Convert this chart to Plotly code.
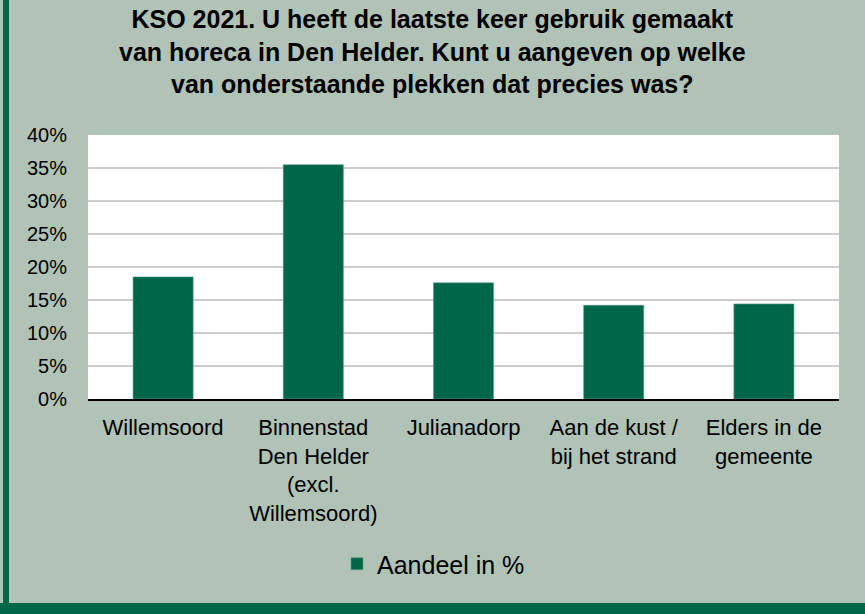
import plotly.graph_objects as go

categories = ["Willemsoord", "Binnenstad<br>Den Helder<br>(excl.<br>Willemsoord)", "Julianadorp",
              "Aan de kust /<br>bij het strand", "Elders in de<br>gemeente"]
values = [0.185, 0.355, 0.176, 0.142, 0.144]
series_name = "Aandeel in %"
tick_vals = [0, 0.05, 0.10, 0.15, 0.20, 0.25, 0.30, 0.35, 0.40]
tick_text = ["0%", "5%", "10%", "15%", "20%", "25%", "30%", "35%", "40%"]
title_text = ("<b>KSO 2021. U heeft de laatste keer gebruik gemaakt<br>van horeca in Den Helder. "
              "Kunt u aangeven op welke<br>van onderstaande plekken dat precies was?</b>")

W, H = 865, 614
L, R, T, B = 88, 26, 135, 215
pw, ph = W - L - R, H - T - B

def px_x(p):
    return (p - L) / pw

def px_y(p):
    return (H - B - p) / ph

bar_color = "#006648"
bg = "#b1c2b7"
font = "Liberation Sans, Arial, sans-serif"

fig = go.Figure()
fig.add_trace(go.Bar(x=categories, y=values, name=series_name, marker_color=bar_color,
                     marker_line_color="#5e9c84", marker_line_width=0.6, width=0.4,
                     showlegend=True))

fig.update_layout(
    width=W, height=H,
    margin=dict(l=L, r=R, t=T, b=B, autoexpand=False),
    paper_bgcolor=bg, plot_bgcolor="white",
    font=dict(family=font, color="black"),
    showlegend=True,
    legend=dict(orientation="h", x=0.5 - 30 / pw, xanchor="center", y=px_y(564), yanchor="middle",
                itemwidth=30,
                font=dict(family=font, size=25, color="black"), bgcolor="rgba(0,0,0,0)"),
    bargap=0.6,
)
fig.add_annotation(text=title_text, xref="paper", yref="paper", x=px_x(432), y=px_y(52),
                   xanchor="center", yanchor="middle", showarrow=False, align="center",
                   font=dict(family=font, size=25, color="black"))
fig.update_xaxes(showline=True, linecolor="black", linewidth=1.5, ticks="outside", ticklen=8,
                 tickcolor="rgba(0,0,0,0)", tickfont=dict(size=22, family=font, color="black"),
                 tickangle=0, fixedrange=True)
fig.update_yaxes(range=[0, 0.4], tickvals=tick_vals, ticktext=tick_text, showgrid=True,
                 gridcolor="#cccccc", gridwidth=1.5, zeroline=False, ticks="outside", ticklen=16,
                 tickcolor="rgba(0,0,0,0)", tickfont=dict(size=20, family=font, color="black"),
                 fixedrange=True)

# border strips (left and bottom)
fig.add_shape(type="rect", xref="paper", yref="paper", x0=px_x(3), x1=px_x(9), y0=px_y(614), y1=px_y(0),
              fillcolor=bar_color, line_width=0, layer="below")
fig.add_shape(type="rect", xref="paper", yref="paper", x0=px_x(0), x1=px_x(865), y0=px_y(614), y1=px_y(603),
              fillcolor=bar_color, line_width=0, layer="below")

fig.write_html("out.html", config={"displayModeBar": False},
               post_script="document.body.style.margin='0';document.body.style.overflow='hidden';")
